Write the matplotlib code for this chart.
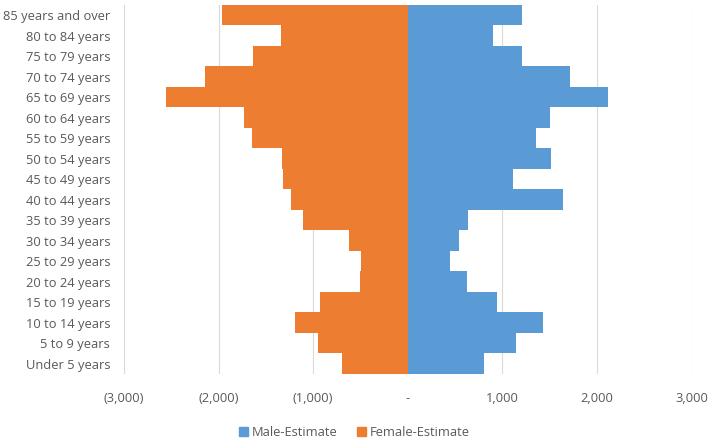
import matplotlib
matplotlib.use("Agg")
import matplotlib.pyplot as plt
from matplotlib.patches import Patch
from matplotlib.ticker import FuncFormatter

# Age groups, bottom to top
age_groups = [
    "Under 5 years", "5 to 9 years", "10 to 14 years", "15 to 19 years",
    "20 to 24 years", "25 to 29 years", "30 to 34 years", "35 to 39 years",
    "40 to 44 years", "45 to 49 years", "50 to 54 years", "55 to 59 years",
    "60 to 64 years", "65 to 69 years", "70 to 74 years", "75 to 79 years",
    "80 to 84 years", "85 years and over",
]
male_estimate = [
    800, 1145, 1430, 940, 630, 450, 540, 640, 1635,
    1110, 1515, 1355, 1500, 2120, 1710, 1205, 905, 1205,
]
female_estimate = [
    695, 950, 1195, 925, 510, 490, 625, 1110, 1235,
    1320, 1330, 1645, 1735, 2550, 2140, 1640, 1345, 1960,
]

BLUE = "#5B9BD5"
ORANGE = "#ED7D31"
TEXT = "#595959"

plt.rcParams["font.family"] = ["Open Sans", "DejaVu Sans"]

fig = plt.figure(figsize=(7.08, 4.43), dpi=100)
ax = fig.add_axes([0.175, 0.156, 0.802, 0.833])

y = range(len(age_groups))
ax.barh(y, male_estimate, height=1.0, color=BLUE, label="Male-Estimate", zorder=2)
ax.barh(y, [-v for v in female_estimate], height=1.0, color=ORANGE,
        label="Female-Estimate", zorder=2)

ax.set_xlim(-3000, 3000)
ax.set_ylim(-0.5, len(age_groups) - 0.5)
ax.set_xticks(range(-3000, 3001, 1000))


def fmt(v, pos):
    if v == 0:
        return "-"
    if v < 0:
        return f"({abs(v):,.0f})"
    return f"{v:,.0f}"


ax.xaxis.set_major_formatter(FuncFormatter(fmt))
ax.set_yticks(list(y))
ax.set_yticklabels(age_groups)

ax.grid(axis="x", color="#D9D9D9", linewidth=0.8, zorder=0)
for s in ax.spines.values():
    s.set_visible(False)
ax.tick_params(axis="both", length=0, colors=TEXT, labelsize=9.3)
ax.tick_params(axis="x", pad=13)
ax.tick_params(axis="y", pad=10)

handles = [Patch(color=BLUE), Patch(color=ORANGE)]
fig.legend(handles, ["Male-Estimate", "Female-Estimate"], loc="center",
           bbox_to_anchor=(0.5, 0.024), ncol=2, frameon=False,
           fontsize=9.3, labelcolor=TEXT, handlelength=0.7, handleheight=0.7,
           handletextpad=0.3, columnspacing=1.5)

fig.savefig("out.png", dpi=100)
